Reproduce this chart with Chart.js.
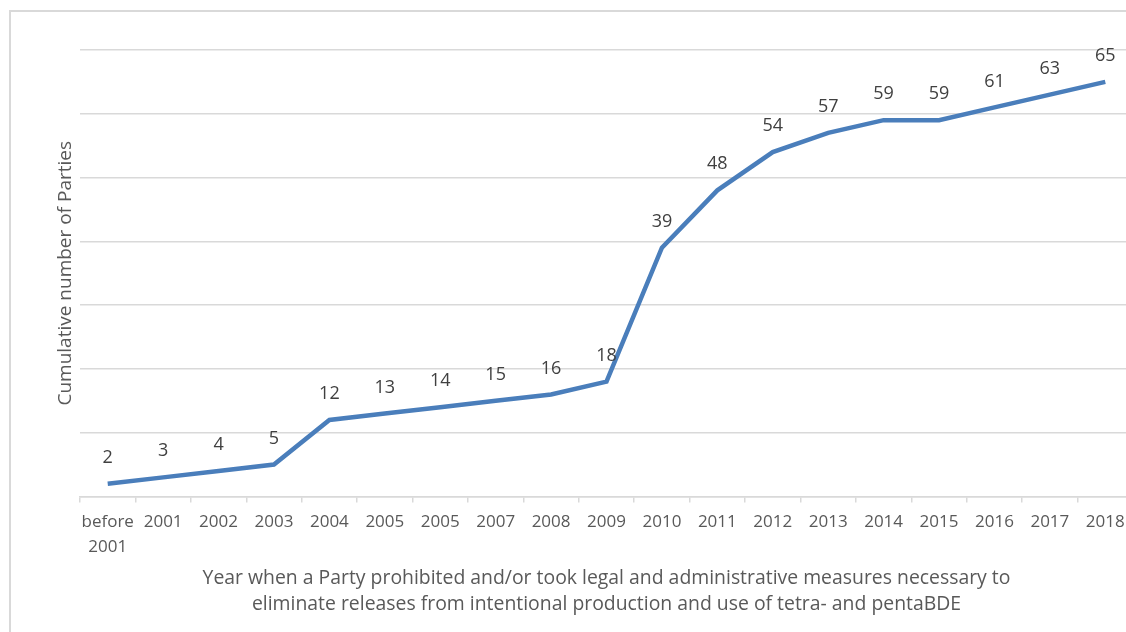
<!DOCTYPE html>
<html>
<head>
<meta charset="utf-8">
<script src="https://cdn.jsdelivr.net/npm/chart.js@4"></script>
<style>
  html, body { margin: 0; padding: 0; background: #ffffff; overflow: hidden; }
  #frame { position: absolute; left: 9px; top: 10px; width: 1200px; height: 700px; border: 2px solid #d9d9d9; }
  #wrap { position: absolute; left: 0; top: 0; width: 1140px; height: 632px; }
</style>
</head>
<body>
<div id="frame"></div>
<div id="wrap"><canvas id="lineChart"></canvas></div>
<script>
const years = [['before', '2001'], '2001', '2002', '2003', '2004', '2005', '2005', '2007', '2008', '2009',
    '2010', '2011', '2012', '2013', '2014', '2015', '2016', '2017', '2018'];
const cumulativeParties = [2, 3, 4, 5, 12, 13, 14, 15, 16, 18, 39, 48, 54, 57, 59, 59, 61, 63, 65];
const yTitle = 'Cumulative number of Parties';
const xTitle = ['Year when a Party prohibited and/or took legal and administrative measures necessary to',
    'eliminate releases from intentional production and use of tetra- and pentaBDE'];

const gridColor = '#d9d9d9';

// draws the value above each point
const pointLabels = {
    id: 'pointLabels',
    afterDatasetsDraw(chart) {
        const ctx = chart.ctx;
        const meta = chart.getDatasetMeta(0);
        ctx.save();
        ctx.font = '18px "Open Sans"';
        ctx.fillStyle = '#404040';
        ctx.textAlign = 'center';
        ctx.textBaseline = 'middle';
        meta.data.forEach((pt, i) => {
            ctx.fillText(String(cumulativeParties[i]), pt.x, pt.y - 26);
        });
        ctx.restore();
    }
};

const ctx = document.getElementById('lineChart').getContext('2d');
new Chart(ctx, {
    type: 'line',
    data: {
        labels: years,
        datasets: [{
            data: cumulativeParties,
            borderColor: '#4a7ebb',
            borderWidth: 4.5,
            tension: 0,
            pointRadius: 0,
            fill: false
        }]
    },
    options: {
        responsive: true,
        maintainAspectRatio: false,
        animation: false,
        layout: { padding: { top: 50, right: 7, left: 0, bottom: 0 } },
        plugins: {
            legend: { display: false },
            tooltip: { enabled: false }
        },
        scales: {
            x: {
                offset: true,
                afterFit(scale) { scale.height = 135.5; },
                grid: { offset: true, drawOnChartArea: false, drawTicks: true, tickLength: 6, color: gridColor, lineWidth: 1.5 },
                border: { color: gridColor, width: 1.5 },
                ticks: { color: '#595959', font: { family: 'Open Sans', size: 17, lineHeight: 1.47 }, padding: 7, maxRotation: 0, autoSkip: false },
                title: {
                    display: true,
                    text: xTitle,
                    color: '#595959',
                    font: { family: 'Open Sans', size: 19.4, lineHeight: 1.34 },
                    padding: { top: 0, bottom: 15 }
                }
            },
            y: {
                min: 0,
                max: 70,
                afterFit(scale) { scale.width = 80; },
                grid: { color: gridColor, lineWidth: 1.5, drawTicks: false },
                border: { display: false },
                ticks: { display: false, stepSize: 10 },
                title: {
                    display: true,
                    text: yTitle,
                    color: '#595959',
                    font: { family: 'Open Sans', size: 19, lineHeight: 1.2 },
                    padding: { top: 54.6, bottom: 0 }
                }
            }
        }
    },
    plugins: [pointLabels]
});
</script>
</body>
</html>
